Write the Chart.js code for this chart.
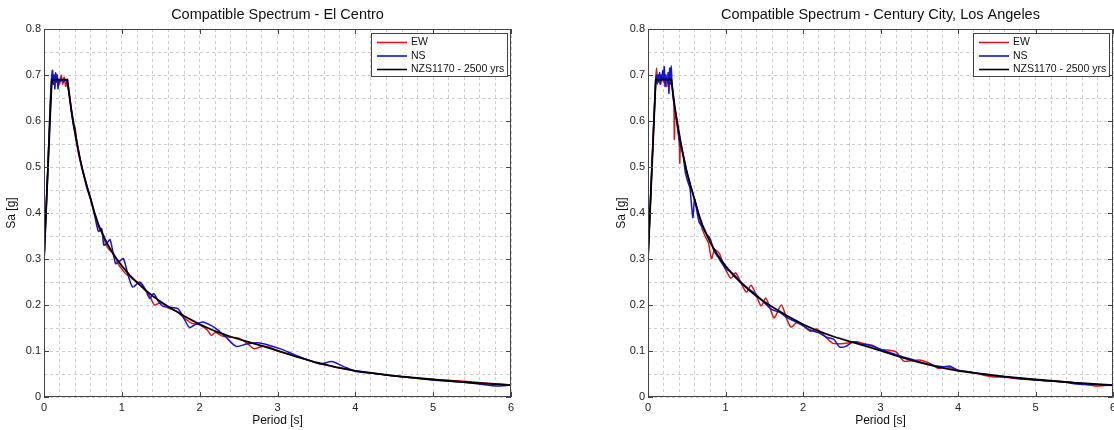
<!DOCTYPE html>
<html>
<head>
<meta charset="utf-8">
<script src="https://cdn.jsdelivr.net/npm/chart.js@4.4.0/dist/chart.umd.min.js"></script>
<style>
    body { margin: 0; background: #fff; }
    .panel { position: absolute; top: 0; width: 557px; height: 430px; }
</style>
</head>
<body>
<div class="panel" style="left:0"><canvas id="el_centro" width="557" height="430"></canvas></div>
<div class="panel" style="left:557px"><canvas id="century_city" width="557" height="430"></canvas></div>
<script>
const x_ticks = [0, 1, 2, 3, 4, 5, 6]
const x_tick_labels = ["0", "1", "2", "3", "4", "5", "6"]
const y_ticks = [0, 0.1, 0.2, 0.3, 0.4, 0.5, 0.6, 0.7, 0.8]
const y_tick_labels = ["0", "0.1", "0.2", "0.3", "0.4", "0.5", "0.6", "0.7", "0.8"]
const series_labels = ["EW", "NS", "NZS1170 - 2500 yrs"]

// NZS1170 target spectrum, same in both plots
const target_T = [0, 0.1, 0.3, 0.35, 0.4, 0.45, 0.5, 0.55, 0.6, 0.65, 0.7, 0.8, 0.9, 1.0, 1.1, 1.2, 1.3, 1.4, 1.5, 1.6, 1.8, 2.0, 2.2, 2.4, 2.6, 2.8, 3.0, 3.25, 3.5, 3.75, 4.0, 4.5, 5.0, 5.5, 6.0]
const target_Sa = [0.30, 0.69, 0.69, 0.625, 0.575, 0.528, 0.49, 0.458, 0.43, 0.40, 0.375, 0.337, 0.308, 0.285, 0.265, 0.248, 0.233, 0.219, 0.207, 0.196, 0.176, 0.158, 0.143, 0.131, 0.121, 0.111, 0.101, 0.087, 0.075, 0.065, 0.057, 0.046, 0.038, 0.031, 0.026]

// El Centro
const el_ew_T = [0, 0.05, 0.1, 0.12, 0.14, 0.16, 0.18, 0.2, 0.22, 0.24, 0.26, 0.28, 0.3, 0.32, 0.34, 0.36, 0.38, 0.4, 0.42, 0.45, 0.5, 0.55, 0.6, 0.65, 0.7, 0.75, 0.8, 0.85, 0.9, 0.95, 1.0, 1.05, 1.1, 1.15, 1.2, 1.25, 1.3, 1.35, 1.42, 1.5, 1.6, 1.7, 1.8, 1.9, 2.0, 2.1, 2.15, 2.2, 2.3, 2.4, 2.5, 2.6, 2.7, 2.8, 2.9, 3.0, 3.2, 3.4, 3.6, 3.8, 4.0, 4.3, 4.6, 5.0, 5.4, 5.7, 6.0]
const el_ew_Sa = [0.30, 0.50, 0.69, 0.68, 0.695, 0.685, 0.69, 0.68, 0.70, 0.68, 0.695, 0.675, 0.69, 0.665, 0.64, 0.615, 0.59, 0.585, 0.555, 0.53, 0.49, 0.455, 0.43, 0.40, 0.37, 0.355, 0.33, 0.318, 0.31, 0.29, 0.278, 0.268, 0.262, 0.255, 0.25, 0.245, 0.232, 0.222, 0.20, 0.205, 0.193, 0.187, 0.172, 0.16, 0.157, 0.145, 0.134, 0.14, 0.132, 0.13, 0.128, 0.118, 0.105, 0.11, 0.108, 0.10, 0.091, 0.08, 0.07, 0.063, 0.057, 0.05, 0.044, 0.038, 0.034, 0.03, 0.026]
const el_ns_T = [0, 0.05, 0.08, 0.1, 0.11, 0.12, 0.13, 0.14, 0.15, 0.16, 0.17, 0.18, 0.19, 0.2, 0.22, 0.25, 0.28, 0.3, 0.33, 0.36, 0.4, 0.45, 0.5, 0.55, 0.6, 0.65, 0.7, 0.74, 0.77, 0.81, 0.85, 0.92, 0.97, 1.02, 1.08, 1.14, 1.23, 1.3, 1.36, 1.41, 1.47, 1.53, 1.62, 1.72, 1.8, 1.87, 1.95, 2.04, 2.15, 2.24, 2.35, 2.47, 2.6, 2.75, 2.9, 3.05, 3.2, 3.4, 3.55, 3.7, 3.85, 4.0, 4.3, 4.6, 5.0, 5.4, 5.8, 6.0]
const el_ns_Sa = [0.29, 0.50, 0.64, 0.70, 0.71, 0.68, 0.70, 0.67, 0.705, 0.685, 0.70, 0.67, 0.69, 0.685, 0.69, 0.685, 0.69, 0.68, 0.65, 0.61, 0.57, 0.525, 0.49, 0.46, 0.43, 0.395, 0.36, 0.366, 0.33, 0.335, 0.342, 0.29, 0.295, 0.301, 0.265, 0.239, 0.25, 0.235, 0.214, 0.225, 0.208, 0.197, 0.195, 0.192, 0.17, 0.151, 0.158, 0.163, 0.155, 0.145, 0.128, 0.110, 0.115, 0.118, 0.112, 0.104, 0.093, 0.08, 0.072, 0.077, 0.066, 0.056, 0.05, 0.044, 0.037, 0.032, 0.024, 0.026]

// Century City, Los Angeles
const cc_ew_T = [0, 0.05, 0.1, 0.11, 0.12, 0.14, 0.16, 0.18, 0.2, 0.22, 0.24, 0.26, 0.28, 0.3, 0.32, 0.335, 0.34, 0.35, 0.37, 0.39, 0.405, 0.41, 0.42, 0.45, 0.5, 0.55, 0.6, 0.65, 0.7, 0.75, 0.78, 0.82, 0.86, 0.92, 0.98, 1.07, 1.13, 1.2, 1.27, 1.33, 1.4, 1.46, 1.52, 1.58, 1.63, 1.72, 1.8, 1.85, 1.92, 2.0, 2.1, 2.17, 2.25, 2.38, 2.5, 2.6, 2.7, 2.8, 2.9, 3.0, 3.1, 3.2, 3.3, 3.4, 3.52, 3.65, 3.75, 3.83, 3.92, 4.0, 4.2, 4.44, 4.6, 4.8, 5.0, 5.2, 5.38, 5.55, 5.77, 5.9, 6.0]
const cc_ew_Sa = [0.30, 0.50, 0.69, 0.715, 0.69, 0.70, 0.68, 0.695, 0.685, 0.70, 0.675, 0.69, 0.68, 0.69, 0.665, 0.63, 0.56, 0.62, 0.60, 0.575, 0.545, 0.508, 0.55, 0.53, 0.49, 0.46, 0.43, 0.40, 0.365, 0.345, 0.335, 0.301, 0.32, 0.312, 0.285, 0.258, 0.27, 0.248, 0.228, 0.243, 0.22, 0.198, 0.215, 0.19, 0.172, 0.20, 0.165, 0.152, 0.162, 0.155, 0.143, 0.148, 0.138, 0.117, 0.116, 0.118, 0.12, 0.115, 0.112, 0.103, 0.102, 0.098, 0.078, 0.079, 0.08, 0.072, 0.062, 0.066, 0.063, 0.058, 0.053, 0.044, 0.043, 0.039, 0.037, 0.035, 0.033, 0.03, 0.024, 0.025, 0.026]
const cc_ns_T = [0, 0.05, 0.1, 0.11, 0.12, 0.13, 0.14, 0.15, 0.16, 0.17, 0.18, 0.19, 0.2, 0.21, 0.22, 0.23, 0.24, 0.25, 0.26, 0.27, 0.28, 0.29, 0.3, 0.31, 0.33, 0.36, 0.39, 0.42, 0.45, 0.48, 0.51, 0.54, 0.56, 0.58, 0.6, 0.63, 0.66, 0.7, 0.75, 0.8, 0.85, 0.9, 1.0, 1.1, 1.2, 1.3, 1.4, 1.5, 1.6, 1.7, 1.8, 1.9, 2.0, 2.1, 2.2, 2.3, 2.4, 2.47, 2.55, 2.65, 2.75, 2.85, 3.0, 3.2, 3.4, 3.6, 3.8, 3.9, 4.0, 4.2, 4.44, 4.6, 4.8, 5.0, 5.2, 5.4, 5.5, 5.7, 6.0]
const cc_ns_Sa = [0.30, 0.50, 0.69, 0.70, 0.68, 0.70, 0.685, 0.705, 0.68, 0.70, 0.69, 0.71, 0.69, 0.718, 0.675, 0.70, 0.69, 0.685, 0.705, 0.66, 0.715, 0.68, 0.72, 0.68, 0.645, 0.615, 0.575, 0.545, 0.53, 0.49, 0.47, 0.455, 0.42, 0.39, 0.43, 0.405, 0.38, 0.37, 0.355, 0.345, 0.318, 0.305, 0.28, 0.268, 0.25, 0.235, 0.222, 0.205, 0.19, 0.184, 0.172, 0.164, 0.155, 0.145, 0.14, 0.13, 0.125, 0.109, 0.11, 0.12, 0.115, 0.113, 0.104, 0.092, 0.082, 0.072, 0.066, 0.067, 0.058, 0.053, 0.048, 0.044, 0.04, 0.037, 0.035, 0.032, 0.029, 0.027, 0.025]

const font_family = "'Liberation Sans', Arial, sans-serif"
const frame_color = "#444"

function make_points(periods, values) {
    return periods.map((t, i) => ({x: t, y: values[i]}))
}

function tick_label(value, ticks, labels) {
    for (let i = 0; i < ticks.length; i++) {
        if (Math.abs(value - ticks[i]) < 1e-6) return labels[i]
    }
    return ""
}

// title over the axes, box, inward tick marks and the legend inside the axes
const frame_plugin = {
    id: "frame",
    afterDraw(chart, args, opts) {
        const {ctx, chartArea: a, scales} = chart
        ctx.save()
        ctx.fillStyle = "#111"
        ctx.font = "14.5px " + font_family
        ctx.textAlign = "center"
        ctx.textBaseline = "middle"
        ctx.fillText(opts.title, (a.left + a.right) / 2, 15)

        ctx.strokeStyle = frame_color
        ctx.lineWidth = 1
        ctx.strokeRect(a.left + 0.5, a.top + 0.5, a.right - a.left - 1, a.bottom - a.top - 1)

        ctx.beginPath()
        x_ticks.forEach(v => {
            const px = Math.round(scales.x.getPixelForValue(v)) + 0.5
            ctx.moveTo(px, a.bottom); ctx.lineTo(px, a.bottom - 5)
            ctx.moveTo(px, a.top); ctx.lineTo(px, a.top + 5)
        })
        y_ticks.forEach(v => {
            const py = Math.round(scales.y.getPixelForValue(v)) + 0.5
            ctx.moveTo(a.left, py); ctx.lineTo(a.left + 5, py)
            ctx.moveTo(a.right, py); ctx.lineTo(a.right - 5, py)
        })
        ctx.stroke()

        const w = 136, h = 43
        const bx = a.right - 4 - w, by = a.top + 4
        ctx.fillStyle = "#fff"
        ctx.fillRect(bx, by, w, h)
        ctx.strokeRect(bx + 0.5, by + 0.5, w, h)
        ctx.font = "10.5px " + font_family
        ctx.textAlign = "left"
        chart.data.datasets.forEach((ds, i) => {
            const ly = by + 9.5 + i * 13.5
            ctx.strokeStyle = ds.borderColor
            ctx.lineWidth = 1.6
            ctx.beginPath()
            ctx.moveTo(bx + 6, ly); ctx.lineTo(bx + 36, ly)
            ctx.stroke()
            ctx.fillStyle = "#111"
            ctx.fillText(ds.label, bx + 40, ly)
        })
        ctx.restore()
    }
}

function create_spectrum_chart(ctx, title, ew_points, ns_points, pad_left, pad_right, ytitle_pad) {
    const data = {
        datasets: [
            {label: series_labels[0], data: ew_points, borderColor: "#e0141a", borderWidth: 1.5, tension: 0.25, order: 3},
            {label: series_labels[1], data: ns_points, borderColor: "#1414d2", borderWidth: 1.5, tension: 0.25, order: 2},
            {label: series_labels[2], data: make_points(target_T, target_Sa), borderColor: "#000", borderWidth: 1.8, tension: 0, order: 1},
        ]
    }
    data.datasets.forEach(ds => {
        ds.pointRadius = 0
        ds.fill = false
    })

    const config = {
        type: "line",
        data: data,
        options: {
            responsive: false,
            animation: false,
            devicePixelRatio: 1,
            layout: {padding: {left: pad_left, right: pad_right, top: 29, bottom: 0}},
            plugins: {
                legend: {display: false},
                tooltip: {enabled: false},
                title: {display: false},
                frame: {title: title}
            },
            scales: {
                x: {
                    type: "linear",
                    min: 0,
                    max: 6,
                    ticks: {
                        stepSize: 0.2,
                        autoSkip: false,
                        maxRotation: 0,
                        padding: 4,
                        color: "#222",
                        font: {family: font_family, size: 11},
                        callback: v => tick_label(v, x_ticks, x_tick_labels)
                    },
                    grid: {color: "#cdcdcd", drawTicks: false, lineWidth: 1},
                    border: {display: false, dash: [3, 3]},
                    title: {
                        display: true,
                        text: "Period [s]",
                        color: "#111",
                        font: {family: font_family, size: 12},
                        padding: {top: 0, bottom: 2}
                    },
                    afterFit: s => { s.height = 33; s.paddingLeft = 0; s.paddingRight = 0 }
                },
                y: {
                    type: "linear",
                    min: 0,
                    max: 0.8,
                    ticks: {
                        stepSize: 0.05,
                        autoSkip: false,
                        padding: 3,
                        color: "#222",
                        font: {family: font_family, size: 11},
                        callback: v => tick_label(v, y_ticks, y_tick_labels)
                    },
                    grid: {color: "#cdcdcd", drawTicks: false, lineWidth: 1},
                    border: {display: false, dash: [3, 3]},
                    title: {
                        display: true,
                        text: "Sa [g]",
                        color: "#111",
                        font: {family: font_family, size: 12},
                        padding: {top: ytitle_pad, bottom: 0}
                    },
                    afterFit: s => { s.width = 44; s.paddingTop = 0; s.paddingBottom = 0 }
                }
            }
        },
        plugins: [frame_plugin]
    }
    return new Chart(ctx, config)
}

window.addEventListener("DOMContentLoaded", () => {
    create_spectrum_chart(
        document.querySelector("#el_centro"),
        "Compatible Spectrum - El Centro",
        make_points(el_ew_T, el_ew_Sa),
        make_points(el_ns_T, el_ns_Sa),
        0, 46, 4.5
    )
    create_spectrum_chart(
        document.querySelector("#century_city"),
        "Compatible Spectrum - Century City, Los Angeles",
        make_points(cc_ew_T, cc_ew_Sa),
        make_points(cc_ns_T, cc_ns_Sa),
        47, 1, 10
    )
})
</script>
</body>
</html>
